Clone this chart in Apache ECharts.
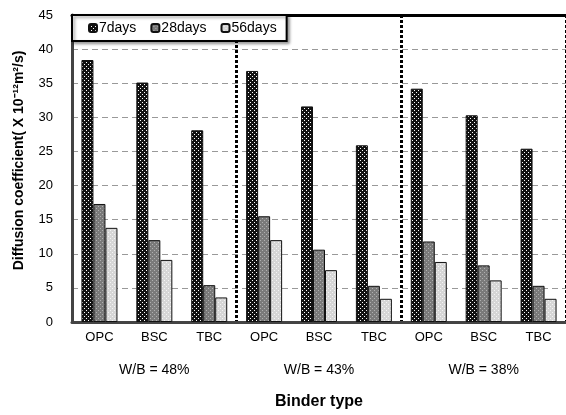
<!DOCTYPE html>
<html>
<head>
<meta charset="utf-8">
<script src="https://cdn.jsdelivr.net/npm/echarts@6/dist/echarts.min.js"></script>
<style>html,body{margin:0;padding:0;background:#fff}#c{width:566px;height:415px}</style>
</head>
<body>
<div id="c"></div>
<script>
const categories = ['OPC','BSC','TBC','OPC','BSC','TBC','OPC','BSC','TBC'];
const groups = ['W/B = 48%','W/B = 43%','W/B = 38%'];
const seriesNames = ['7days','28days','56days'];
const days7  = [38.4, 35.1, 28.1, 36.8, 31.6, 25.9, 34.2, 30.3, 25.4];
const days28 = [17.3, 12.0, 5.4, 15.5, 10.6, 5.3, 11.8, 8.3, 5.3];
const days56 = [13.8, 9.1, 3.6, 12.0, 7.6, 3.4, 8.8, 6.1, 3.4];
const yTicks = {min: 0, max: 45, interval: 5};

function pattern(bg, dot) {
  const c = document.createElement('canvas');
  c.width = 4; c.height = 4;
  const g = c.getContext('2d');
  g.fillStyle = bg; g.fillRect(0, 0, 4, 4);
  g.fillStyle = dot;
  g.fillRect(0, 0, 1, 1);
  g.fillRect(2, 2, 1, 1);
  return {image: c, repeat: 'repeat'};
}
const fills = [pattern('#111111', '#ffffff'), pattern('#7a7a7a', '#b0b0b0'), pattern('#d6d6d6', '#f4f4f4')];
const values = [days7, days28, days56];

const font = '"Liberation Sans Narrow", "Liberation Sans", Arial, sans-serif';
const chart = echarts.init(document.getElementById('c'), null, {renderer: 'canvas'});
chart.setOption({
  animation: false,
  backgroundColor: '#fff',
  grid: {left: 72, right: -3, top: 15, bottom: 91},
  legend: {
    left: 72, top: 15,
    width: 223,
    padding: [6, 10, 6, 16],
    itemWidth: 8, itemHeight: 8, itemGap: 14,
    backgroundColor: '#fff',
    borderColor: '#000', borderWidth: 2,
    shadowColor: 'rgba(0,0,0,0.35)', shadowBlur: 3, shadowOffsetX: 2, shadowOffsetY: 2,
    textStyle: {fontFamily: 'Liberation Sans, Arial, sans-serif', fontSize: 14, color: '#000', padding: [0,0,0,-3]},
    data: seriesNames
  },
  xAxis: [
    {
      type: 'category', data: categories, position: 'bottom',
      axisLine: {lineStyle: {color: '#444', width: 3}},
      axisTick: {show: false},
      axisLabel: {color: '#000', fontSize: 13, fontFamily: font, margin: 9},
      splitLine: {show: true, interval: function (i) { return i === 3 || i === 6; },
        lineStyle: {color: '#000', width: 3, type: [3, 2]}}
    },
    {
      type: 'category', data: groups, position: 'bottom', gridIndex: 0,
      axisLine: {show: false}, axisTick: {show: false},
      axisLabel: {color: '#000', fontSize: 14, fontFamily: 'Liberation Sans, Arial, sans-serif', margin: 41},
      name: 'Binder type', nameLocation: 'middle', nameGap: 72,
      nameTextStyle: {color: '#000', fontSize: 16, fontWeight: 'bold', fontFamily: 'Liberation Sans, Arial, sans-serif'}
    },
    {
      type: 'category', data: categories, position: 'top',
      axisLine: {lineStyle: {color: '#000', width: 3}},
      axisTick: {show: false}, axisLabel: {show: false}
    }
  ],
  yAxis: {
    type: 'value', min: yTicks.min, max: yTicks.max, interval: yTicks.interval,
    axisLine: {show: true, lineStyle: {color: '#444', width: 3}},
    axisTick: {show: false},
    axisLabel: {color: '#000', fontSize: 13, fontFamily: font, margin: 19},
    splitLine: {lineStyle: {color: '#999', width: 1, type: [6, 4]}},
    name: 'Diffusion coefficient( X 10\u207B\u00B9\u00B2m\u00B2/s)',
    nameLocation: 'middle', nameGap: 46,
    nameTextStyle: {color: '#000', fontSize: 14, fontWeight: 'bold', fontFamily: 'Liberation Sans, Arial, sans-serif', padding: [0, 0, 0, 16]}
  },
  series: seriesNames.map((n, k) => ({
    name: n, type: 'bar', xAxisIndex: 0, data: values[k],
    barWidth: 12, barGap: '0%',
    itemStyle: {color: fills[k], borderColor: '#111', borderWidth: 1}
  }))
});
</script>
</body>
</html>
